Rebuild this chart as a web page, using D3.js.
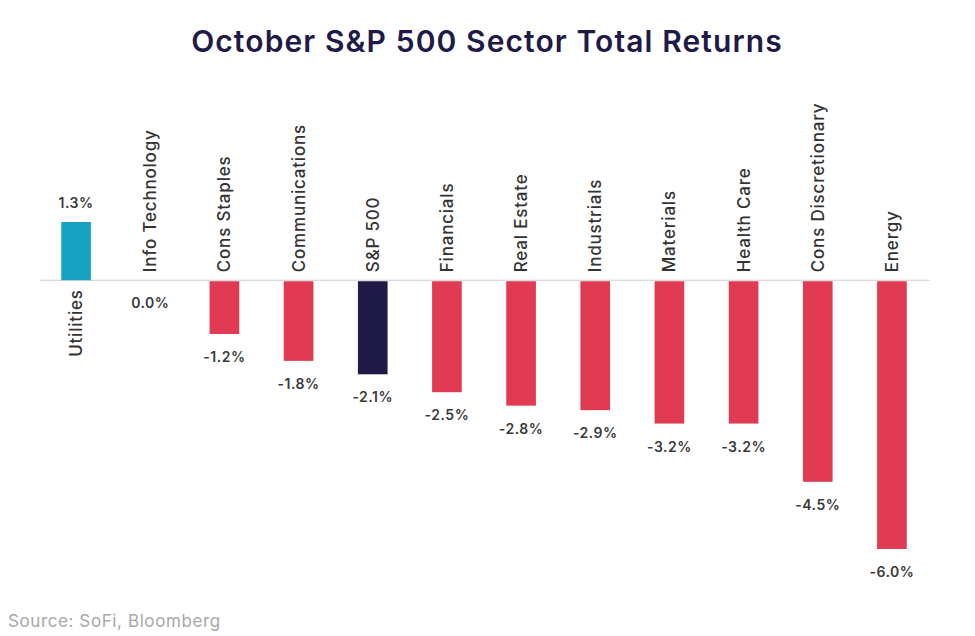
<!DOCTYPE html>
<html>
<head>
<meta charset="utf-8">
<script src="https://cdn.jsdelivr.net/npm/d3@7"></script>
<style>
  body { margin: 0; background: #fff; }
  text { font-family: Inter, "Noto Sans", sans-serif; }
</style>
</head>
<body>
<div class="chart"></div>
<script>
// data
var sectors = ["Utilities", "Info Technology", "Cons Staples", "Communications", "S&P 500",
  "Financials", "Real Estate", "Industrials", "Materials", "Health Care",
  "Cons Discretionary", "Energy"];
var returns = [1.3, 0.0, -1.2, -1.8, -2.1, -2.5, -2.8, -2.9, -3.2, -3.2, -4.5, -6.0];
var valueLabels = ["1.3%", "0.0%", "-1.2%", "-1.8%", "-2.1%", "-2.5%", "-2.8%", "-2.9%",
  "-3.2%", "-3.2%", "-4.5%", "-6.0%"];

var svgWidth = 975;
var svgHeight = 636;

var svg = d3.select(".chart")
  .append("svg")
  .attr("width", svgWidth)
  .attr("height", svgHeight);

// title
svg.append("text")
  .attr("x", 487)
  .attr("y", 52)
  .attr("text-anchor", "middle")
  .style("font-size", "30px")
  .style("font-weight", "600")
  .style("letter-spacing", "1.1px")
  .attr("fill", "#1f1a48")
  .text("October S&P 500 Sector Total Returns");

var data = sectors.map(function(s, i) {
  return { name: s, value: returns[i], label: valueLabels[i] };
});

var xScale = d3.scaleBand()
  .domain(sectors)
  .range([39, 929])
  .paddingInner(0.6)
  .paddingOuter(0.3);

var yScale = d3.scaleLinear()
  .domain([-6.0, 1.3])
  .range([549, 222]);

var zeroY = yScale(0);

function barColor(d) {
  if (d.name == "S&P 500") return "#201a47";
  if (d.value > 0) return "#18a2c2";
  return "#e03b52";
}

// zero line
svg.append("line")
  .attr("x1", 40)
  .attr("x2", 930)
  .attr("y1", zeroY)
  .attr("y2", zeroY)
  .attr("stroke", "#cfcfcf")
  .attr("stroke-width", 1.2);

// bars
svg.selectAll("rect.bar")
  .data(data)
  .enter()
  .append("rect")
  .attr("class", "bar")
  .attr("x", d => xScale(d.name))
  .attr("width", xScale.bandwidth())
  .attr("y", d => d.value > 0 ? yScale(d.value) : zeroY + 1)
  .attr("height", d => Math.max(0, Math.abs(yScale(d.value) - zeroY) - (d.value > 0 ? 0 : 1)))
  .attr("fill", barColor);

// value labels
svg.selectAll("text.val")
  .data(data)
  .enter()
  .append("text")
  .attr("class", "val")
  .attr("x", d => xScale(d.name) + xScale.bandwidth() / 2)
  .attr("y", d => d.value > 0 ? yScale(d.value) - 14 : yScale(d.value) + 28)
  .attr("text-anchor", "middle")
  .style("font-size", "14px")
  .style("font-weight", "600")
  .style("letter-spacing", "0.5px")
  .attr("fill", "#3a3a3a")
  .text(d => d.label);

// category labels, rotated
svg.selectAll("text.cat")
  .data(data)
  .enter()
  .append("text")
  .attr("class", "cat")
  .attr("transform", function(d) {
    var cx = xScale(d.name) + xScale.bandwidth() / 2;
    var cy = d.value > 0 ? zeroY + 9 : zeroY - 8;
    return "translate(" + cx + "," + cy + ") rotate(-90)";
  })
  .attr("dy", "0.35em")
  .attr("text-anchor", d => d.value > 0 ? "end" : "start")
  .style("font-size", "17px")
  .style("font-weight", "500")
  .style("letter-spacing", "0.8px")
  .attr("fill", "#333")
  .text(d => d.name);

// source
svg.append("text")
  .attr("x", 8)
  .attr("y", 627)
  .style("font-size", "17px")
  .style("letter-spacing", "0.6px")
  .attr("fill", "#a8a8a8")
  .text("Source: SoFi, Bloomberg");
</script>
</body>
</html>
